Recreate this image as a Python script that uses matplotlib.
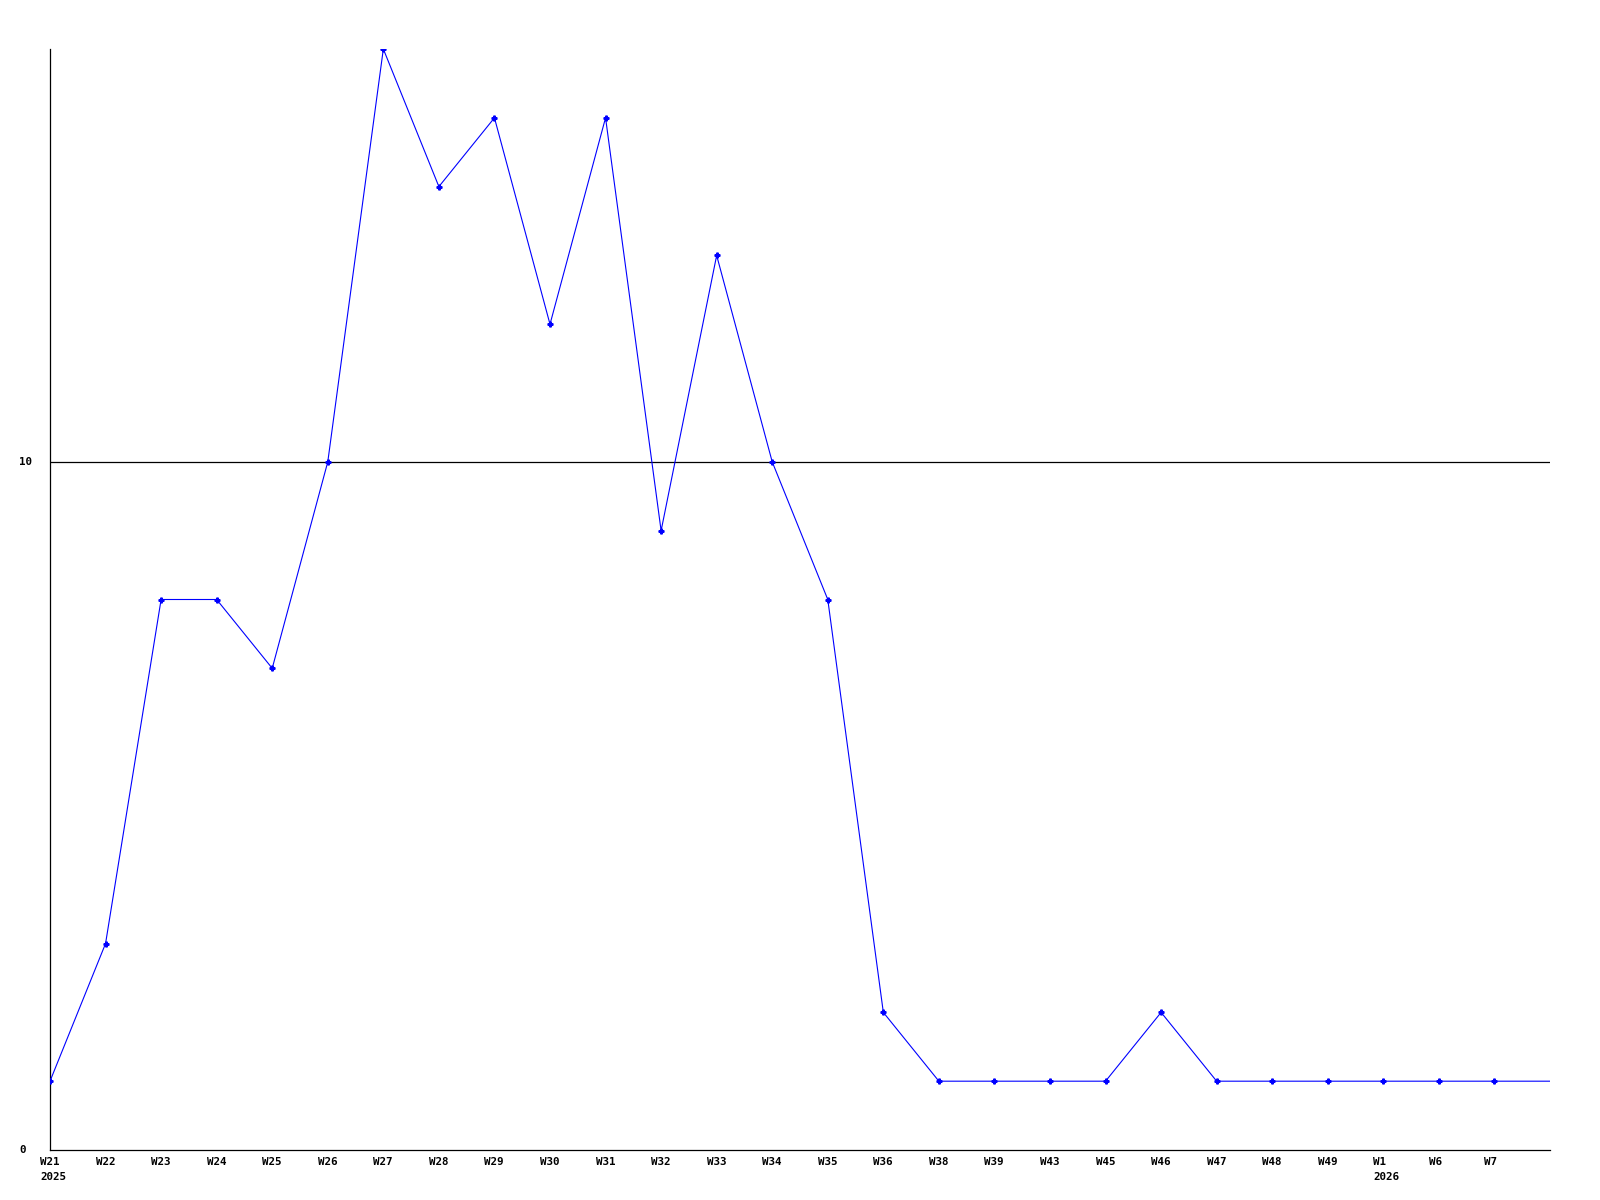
import matplotlib
matplotlib.use("Agg")
import matplotlib.pyplot as plt
import matplotlib.transforms as mtransforms

weeks = ["W21", "W22", "W23", "W24", "W25", "W26", "W27", "W28", "W29", "W30",
         "W31", "W32", "W33", "W34", "W35", "W36", "W38", "W39", "W43", "W45",
         "W46", "W47", "W48", "W49", "W1", "W6", "W7", ""]
years = {"W21": "2025", "W1": "2026"}
values = [1, 3, 8, 8, 7, 10, 16, 14, 15, 12,
          15, 9, 13, 10, 8, 2, 1, 1, 1, 1,
          2, 1, 1, 1, 1, 1, 1, 1]
y_ticks = [0, 10]

fig = plt.figure(figsize=(16, 12), dpi=100)
ax = fig.add_axes([50 / 1600, 1 - 1150 / 1200, 1500 / 1600, 1101 / 1200])
x = list(range(len(values)))
ax.plot(x, values, color="#0000ff", linewidth=0.8, marker="P", markersize=3.5,
        markevery=list(range(len(values) - 1)), clip_on=True, zorder=3)
ax.set_xlim(0, len(values) - 1)
ax.set_ylim(0, 16)
for s in ["top", "right"]:
    ax.spines[s].set_visible(False)
for s in ["left", "bottom"]:
    ax.spines[s].set_linewidth(0.9)
    ax.spines[s].set_color("black")
ax.set_xticks([])
ax.set_yticks([])
for t in y_ticks:
    if t != 0:
        ax.axhline(t, color="black", linewidth=0.9, zorder=2)

font = dict(family="DejaVu Sans Mono", fontweight="bold", fontsize=7.8, color="black")
trans_y = mtransforms.blended_transform_factory(fig.transFigure, ax.transData)
for t in y_ticks:
    ax.text(19 / 1600, t, str(t), transform=trans_y, ha="left", va="center", **font)

off = mtransforms.ScaledTranslation(-10 / 100, 0, fig.dpi_scale_trans)
trans_x = mtransforms.blended_transform_factory(ax.transData, fig.transFigure) + off
for i, w in enumerate(weeks):
    if not w:
        continue
    ax.text(i, 1 - 1162 / 1200, w, transform=trans_x, ha="left", va="center",
            clip_on=False, **font)
    if w in years:
        ax.text(i, 1 - 1177 / 1200, years[w], transform=trans_x, ha="left",
                va="center", clip_on=False, **font)

fig.savefig("out.png", dpi=100)
